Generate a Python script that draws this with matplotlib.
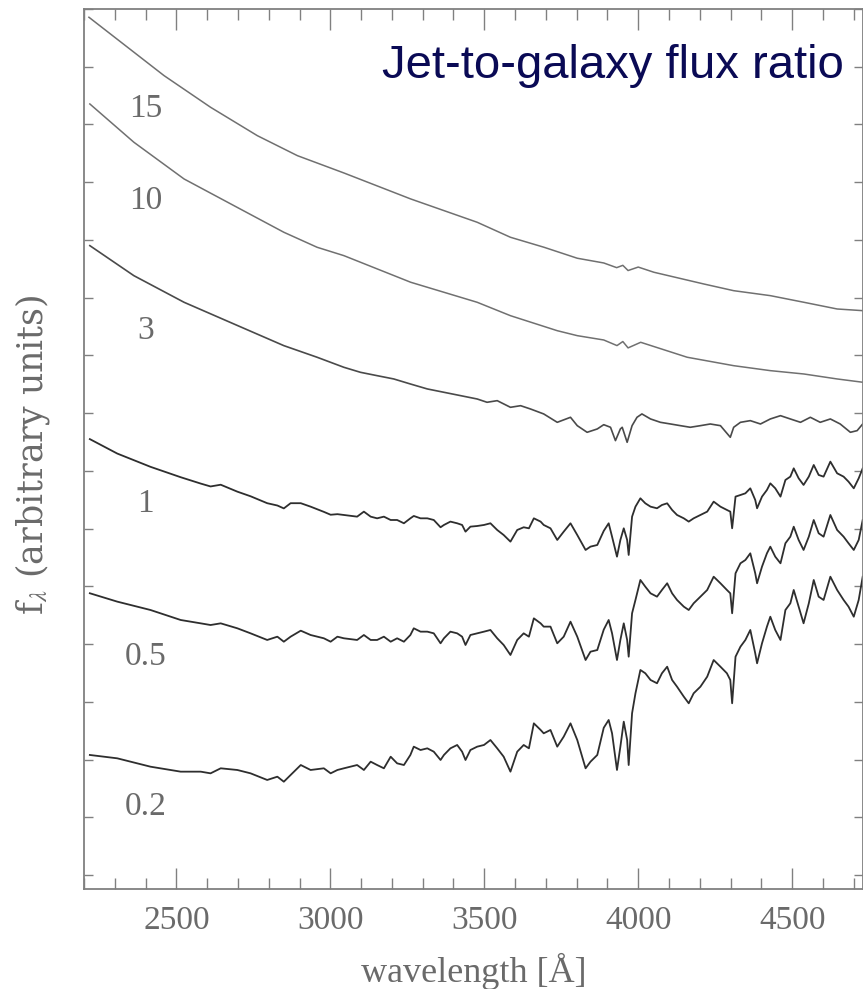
import matplotlib
matplotlib.use("Agg")
import matplotlib.pyplot as plt
from matplotlib.ticker import MultipleLocator, NullFormatter

plt.rcParams['font.family'] = 'serif'
plt.rcParams['font.serif'] = ['Liberation Serif', 'DejaVu Serif']
plt.rcParams['mathtext.fontset'] = 'stix'

# spectra: wavelength [A] and flux (arbitrary, 1 unit = 1 y tick)
wl_15 = [2216, 2460, 2611, 2763, 2893, 3044, 3261, 3477, 3585, 3694, 3802, 3888,
         3930, 3950, 3967, 4000, 4051, 4213, 4310, 4429, 4538, 4646, 4729]
fx_15 = [14.857, 13.846, 13.298, 12.806, 12.460, 12.160, 11.710, 11.306, 11.046, 10.873,
         10.683, 10.601, 10.52, 10.56, 10.47, 10.53, 10.440, 10.237, 10.121, 10.035,
         9.920, 9.804, 9.775]

wl_10 = [2219, 2362, 2525, 2687, 2849, 2957, 3044, 3261, 3477, 3585, 3737, 3802, 3888,
         3931, 3950, 3967, 4008, 4159, 4310, 4429, 4538, 4646, 4729]
fx_10 = [13.355, 12.692, 12.056, 11.594, 11.133, 10.873, 10.728, 10.267, 9.920, 9.688,
         9.428, 9.342, 9.267, 9.17, 9.24, 9.13, 9.227, 8.968, 8.822, 8.736, 8.678,
         8.592, 8.535]

wl_3 = [2219, 2362, 2525, 2687, 2849, 2957, 3044, 3098, 3152, 3206, 3260, 3315, 3369,
        3423, 3477, 3509, 3542, 3585, 3618, 3650, 3693, 3737, 3780, 3802, 3834, 3867,
        3888, 3910, 3926, 3942, 3948, 3964, 3980, 3996, 4012, 4040, 4072, 4105, 4137,
        4169, 4202, 4234, 4267, 4299, 4310, 4332, 4364, 4397, 4429, 4462, 4494, 4527,
        4559, 4591, 4624, 4656, 4689, 4711, 4729]
fx_3 = [10.901, 10.381, 9.920, 9.544, 9.169, 8.968, 8.794, 8.707, 8.649, 8.592, 8.505,
        8.419, 8.361, 8.303, 8.245, 8.188, 8.216, 8.101, 8.129, 8.072, 7.986, 7.841,
        7.928, 7.783, 7.668, 7.726, 7.80, 7.755, 7.524, 7.726, 7.755, 7.495, 7.783,
        7.928, 7.986, 7.899, 7.841, 7.812, 7.783, 7.755, 7.783, 7.812, 7.783, 7.582,
        7.755, 7.841, 7.870, 7.812, 7.899, 7.956, 7.899, 7.841, 7.928, 7.841, 7.899,
        7.812, 7.668, 7.697, 7.812]

# common wavelength grid for the three galaxy-dominated spectra
wl_gal = [2219, 2308, 2416, 2514, 2579, 2611, 2644, 2698, 2741, 2795, 2828, 2849, 2871,
          2904, 2936, 2979, 3001, 3023,
          3044, 3087, 3109, 3131, 3152, 3174, 3196, 3217, 3239, 3260, 3271, 3293, 3315,
          3336, 3358, 3369, 3390, 3412, 3428, 3439, 3455, 3477, 3499, 3520, 3542, 3563,
          3585, 3607, 3628, 3645, 3661, 3683, 3693, 3715, 3737, 3758, 3780, 3802, 3829,
          3845, 3867, 3888,
          3904, 3915, 3931, 3942, 3953, 3964, 3969, 3980, 3991, 4007, 4023, 4040, 4061,
          4077, 4094, 4110, 4126, 4148, 4164, 4180, 4202, 4224, 4245, 4267, 4288, 4299,
          4305, 4316, 4332, 4348, 4364, 4380, 4386, 4402, 4418, 4429, 4445, 4462, 4478,
          4494, 4505, 4521, 4537, 4554, 4570, 4586, 4602, 4624, 4646, 4667, 4683, 4700,
          4716, 4729]

fx_1 = [7.55, 7.30, 7.07, 6.89, 6.78, 6.73, 6.76, 6.64, 6.56, 6.44, 6.40, 6.35, 6.44,
        6.44, 6.38, 6.29, 6.24, 6.25,
        6.236, 6.207, 6.294, 6.207, 6.178, 6.207, 6.149, 6.149, 6.092, 6.178, 6.219,
        6.178, 6.178, 6.149, 6.023, 6.063, 6.121, 6.092, 6.063, 5.947, 6.034, 6.045,
        6.063, 6.092, 5.976, 5.889, 5.774, 5.976, 6.023, 6.005, 6.178, 6.121, 6.063,
        6.005, 5.803, 5.947, 6.092, 5.889, 5.630, 5.688, 5.716, 5.96,
        6.092, 5.860, 5.514, 5.803, 6.005, 5.803, 5.543, 6.207, 6.380, 6.525, 6.438,
        6.380, 6.352, 6.409, 6.438, 6.323, 6.236, 6.178, 6.121, 6.178, 6.236, 6.294,
        6.467, 6.380, 6.323, 6.294, 6.005, 6.554, 6.582, 6.611, 6.698, 6.496, 6.352,
        6.554, 6.669, 6.784, 6.698, 6.554, 6.842, 6.900, 7.044, 6.871, 6.756, 6.900,
        7.102, 6.929, 6.900, 7.160, 6.958, 6.900, 6.813, 6.698, 6.871, 7.044]

fx_05 = [4.88, 4.735, 4.59, 4.417, 4.359, 4.33, 4.359, 4.273, 4.186, 4.071, 4.128,
         4.041, 4.128, 4.232, 4.157, 4.10, 4.041, 4.128,
         4.100, 4.071, 4.157, 4.071, 4.071, 4.128, 4.041, 4.100, 4.041, 4.157, 4.273,
         4.215, 4.215, 4.186, 4.013, 4.100, 4.215, 4.186, 4.128, 3.984, 4.157, 4.186,
         4.215, 4.244, 4.100, 3.984, 3.811, 4.071, 4.186, 4.128, 4.446, 4.359, 4.302,
         4.302, 4.013, 4.128, 4.388, 4.128, 3.724, 3.868, 3.897, 4.25,
         4.417, 4.186, 3.724, 4.071, 4.359, 4.071, 3.781, 4.533, 4.764, 5.110, 4.994,
         4.879, 4.821, 4.937, 5.053, 4.879, 4.764, 4.648, 4.590, 4.706, 4.821, 4.937,
         5.167, 5.053, 4.937, 4.879, 4.533, 5.226, 5.399, 5.456, 5.572, 5.226, 5.053,
         5.341, 5.572, 5.687, 5.514, 5.399, 5.746, 5.860, 6.033, 5.803, 5.630, 5.860,
         6.149, 5.919, 5.860, 6.236, 5.976, 5.860, 5.746, 5.630, 5.803, 6.149]

fx_02 = [2.079, 2.021, 1.876, 1.790, 1.790, 1.761, 1.848, 1.819, 1.761, 1.646, 1.703,
         1.616, 1.732, 1.905, 1.819, 1.848, 1.761, 1.819,
         1.848, 1.905, 1.819, 1.963, 1.905, 1.848, 2.049, 1.934, 1.905, 2.079, 2.223,
         2.165, 2.194, 2.136, 1.992, 2.079, 2.194, 2.252, 2.136, 1.992, 2.165, 2.223,
         2.252, 2.338, 2.194, 2.049, 1.790, 2.136, 2.252, 2.194, 2.627, 2.512, 2.454,
         2.512, 2.223, 2.396, 2.627, 2.338, 1.848, 1.963, 2.079, 2.55,
         2.685, 2.454, 1.819, 2.223, 2.656, 2.338, 1.905, 2.801, 3.147, 3.551, 3.494,
         3.378, 3.321, 3.494, 3.608, 3.378, 3.262, 3.089, 2.974, 3.147, 3.262, 3.435,
         3.724, 3.608, 3.494, 3.378, 2.974, 3.781, 3.955, 4.071, 4.244, 3.840, 3.667,
         4.013, 4.301, 4.474, 4.244, 4.071, 4.590, 4.706, 4.937, 4.648, 4.360, 4.706,
         5.110, 4.821, 4.764, 5.167, 4.937, 4.764, 4.648, 4.474, 4.764, 5.167]

ratios = ["15", "10", "3", "1", "0.5", "0.2"]
label_y = [13.125, 11.536, 9.285, 6.293, 3.638, 1.039]

fig = plt.figure(figsize=(8.63, 9.89), dpi=100)
ax = fig.add_axes([84 / 863, 100 / 989, 779 / 863, 880 / 989])

ax.plot(wl_15, fx_15, color='#707070', lw=1.1)
ax.plot(wl_10, fx_10, color='#707070', lw=1.1)
ax.plot(wl_3, fx_3, color='#4a4a4a', lw=1.2)
for fx in [fx_1, fx_05, fx_02]:
    ax.plot(wl_gal, fx, color='#2e2e2e', lw=1.3)

for lab, yy in zip(ratios, label_y):
    ax.text(2400, yy, lab, ha='center', va='baseline', fontsize=24, color='#6a6a6a')

ax.set_xlim(2200, 4730)
ax.set_ylim(-0.2425, 15)
ax.xaxis.set_major_locator(MultipleLocator(500))
ax.xaxis.set_minor_locator(MultipleLocator(100))
ax.yaxis.set_major_locator(MultipleLocator(1))
ax.yaxis.set_major_formatter(NullFormatter())

ax.tick_params(axis='x', which='major', direction='in', length=15, width=1,
               top=True, bottom=True, color='#808080', labelsize=24,
               labelcolor='#6a6a6a', pad=12)
ax.tick_params(axis='x', which='minor', direction='in', length=8, width=1,
               top=True, bottom=True, color='#808080')
ax.tick_params(axis='y', which='major', direction='in', length=6.5, width=1,
               left=True, right=True, color='#808080')
for s in ax.spines.values():
    s.set_color('#808080')
    s.set_linewidth(1.3)

ax.set_xlabel('wavelength [Å]', fontsize=26, color='#6a6a6a', labelpad=12)
fig.text(33 / 863, (989 - 455) / 989, r'f$_\lambda$ (arbitrary units)', rotation=90,
         ha='center', va='center', fontsize=25, color='#6a6a6a', family='DejaVu Serif')

fig.text(382 / 863, (989 - 78) / 989, 'Jet-to-galaxy flux ratio', family='Liberation Sans',
         fontsize=34, color='#0a0a55', ha='left', va='baseline')

fig.savefig('out.png', dpi=100)
